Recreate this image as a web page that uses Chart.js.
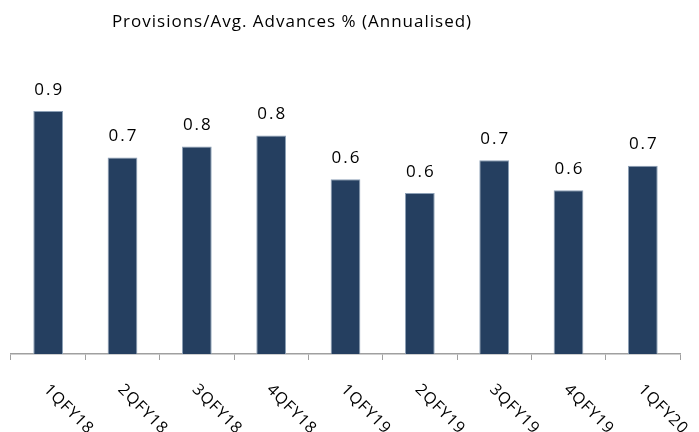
<!DOCTYPE html>
<html>
<head>
<meta charset="utf-8">
<title>Provisions / Avg. Advances</title>
<script src="https://cdn.jsdelivr.net/npm/chart.js@4.4.1/dist/chart.umd.min.js"></script>
<style>
    html, body { margin: 0; padding: 0; background: #fff; }
    #wrap { width: 699px; height: 432px; }
</style>
</head>
<body>
<div id="wrap"><canvas id="provChart" width="699" height="432"></canvas></div>
<script>
// Quarterly provisions as % of average advances (annualised)
const quarters = ['1QFY18', '2QFY18', '3QFY18', '4QFY18', '1QFY19', '2QFY19', '3QFY19', '4QFY19', '1QFY20'];
const provisionPct = [0.89, 0.72, 0.76, 0.80, 0.64, 0.59, 0.71, 0.60, 0.69];
const chartTitle = 'Provisions/Avg. Advances % (Annualised)';

const FONT = '"Open Sans", "Noto Sans", sans-serif';

// Title sits a little left of centre, so draw it ourselves
const titlePlugin = {
    id: 'titleText',
    afterDraw(chart) {
        const ctx = chart.ctx;
        ctx.save();
        ctx.font = '17px ' + FONT;
        ctx.letterSpacing = '1px';
        ctx.fillStyle = '#000';
        ctx.textAlign = 'center';
        ctx.textBaseline = 'middle';
        ctx.fillText(chartTitle, 292, 22);
        ctx.restore();
    }
};

// Value labels above each bar
const valueLabels = {
    id: 'valueLabels',
    afterDatasetsDraw(chart) {
        const ctx = chart.ctx;
        const meta = chart.getDatasetMeta(0);
        ctx.save();
        ctx.font = '17px ' + FONT;
        ctx.letterSpacing = '2px';
        ctx.fillStyle = '#000';
        ctx.textAlign = 'center';
        ctx.textBaseline = 'middle';
        meta.data.forEach((bar, i) => {
            ctx.fillText(provisionPct[i].toFixed(1), bar.x + 1, bar.y - 21);
        });
        ctx.restore();
    }
};

// Category labels slanted down to the right
const slantedLabels = {
    id: 'slantedLabels',
    afterDraw(chart) {
        const ctx = chart.ctx;
        const xScale = chart.scales.x;
        ctx.save();
        ctx.font = '16px ' + FONT;
        ctx.letterSpacing = '1px';
        ctx.fillStyle = '#000';
        ctx.textAlign = 'left';
        ctx.textBaseline = 'middle';
        quarters.forEach((q, i) => {
            const x = xScale.getPixelForTick(i);
            ctx.save();
            ctx.translate(x - 2, xScale.bottom + 27);
            ctx.rotate(Math.PI / 4);
            ctx.fillText(q, 0, 0);
            ctx.restore();
        });
        ctx.restore();
    }
};

const ctx = document.getElementById('provChart').getContext('2d');
new Chart(ctx, {
    type: 'bar',
    data: {
        labels: quarters,
        datasets: [{
            data: provisionPct,
            backgroundColor: '#253f60',
            borderColor: '#8da0b6',
            borderWidth: 1,
            categoryPercentage: 1.0,
            barPercentage: 0.4
        }]
    },
    options: {
        responsive: false,
        animation: false,
        layout: {
            padding: { top: 81, left: 11, right: 19, bottom: 72 }
        },
        plugins: {
            legend: { display: false },
            title: { display: false },
            tooltip: { enabled: false }
        },
        scales: {
            x: {
                offset: true,
                grid: {
                    offset: true,
                    drawOnChartArea: false,
                    drawTicks: true,
                    tickLength: 6,
                    color: '#a0a0a0'
                },
                border: { display: true, color: '#a0a0a0', width: 1.5 },
                ticks: { display: false }
            },
            y: {
                display: false,
                min: 0,
                max: 1.0
            }
        }
    },
    plugins: [titlePlugin, valueLabels, slantedLabels]
});
</script>
</body>
</html>
